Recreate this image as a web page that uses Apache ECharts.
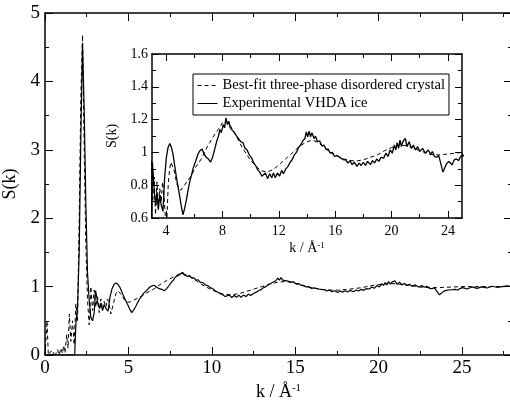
<!DOCTYPE html>
<html>
<head>
<meta charset="utf-8">
<script src="https://cdn.jsdelivr.net/npm/echarts@6/dist/echarts.min.js"></script>
<style>
  html, body { margin: 0; padding: 0; background: #fff; }
  #chart { width: 510px; height: 403px; }
</style>
</head>
<body>
<div id="chart"></div>
<script>
const FIT = 'Best-fit three-phase disordered crystal'
const EXP = 'Experimental VHDA ice'

// best-fit curve (dashed)
const kFit = [0, 0.08, 0.12, 0.16, 0.2, 0.3, 0.38, 0.45, 0.55, 0.62, 0.75, 0.85, 0.95, 1.05, 1.12, 1.2, 1.3, 1.38, 1.46, 1.55,
  1.65, 1.75, 1.85, 1.95, 2.05, 2.15, 2.25, 2.35, 2.45, 2.55, 2.65, 2.75, 2.85, 2.95, 3.05, 3.15, 3.25, 3.35, 3.45, 3.55,
  3.65, 3.75, 3.85, 3.95, 4.05, 4.15, 4.25, 4.35, 4.45, 4.6, 4.75, 4.9, 5.05, 5.3, 5.55, 5.8, 6.1, 6.5, 6.9, 7.3,
  7.7, 8.0, 8.2, 8.5, 8.8, 9.1, 9.4, 9.7, 10.0, 10.35, 10.7, 11.15, 11.6, 12.1, 12.6, 13.0, 13.5, 14.0, 14.4, 14.8,
  15.2, 15.65, 16.1, 16.6, 17.1, 17.55, 18.0, 18.5, 19.0, 19.5, 20.0, 20.6, 21.1, 21.6, 22.2, 22.6, 23.0, 23.5, 24.0, 24.5,
  25.0, 25.5, 26.0, 26.5, 27.0, 27.5, 28.0]
const sFit = [0, 0, 0.5, 0.25, 0, 0, 0.06, 0, 0.05, 0, 0.08, 0, 0.1, 0.02, 0.14, 0.03, 0.3, 0.1, 0.6, 0.2,
  0.5, 0.15, 0.75, 0.5, 2.0, 3.8, 4.68, 3.0, 1.6, 0.8, 0.44, 1.0, 0.65, 0.95, 0.7, 0.85, 0.62, 0.82, 0.66, 0.78,
  0.7, 0.82, 0.74, 0.6, 0.58, 0.8, 0.9, 0.94, 0.95, 0.88, 0.81, 0.78, 0.77, 0.8, 0.83, 0.86, 0.91, 0.96, 1.03, 1.09,
  1.14, 1.18, 1.195, 1.17, 1.13, 1.08, 1.03, 0.99, 0.95, 0.92, 0.89, 0.88, 0.895, 0.93, 0.97, 1.0, 1.04, 1.065, 1.075, 1.06,
  1.03, 1.0, 0.98, 0.96, 0.95, 0.948, 0.955, 0.97, 0.985, 1.01, 1.03, 1.045, 1.04, 1.025, 1.005, 0.99, 0.985, 0.985, 0.99, 0.995,
  1.0, 1.0, 1.0, 1.0, 1.0, 1.0, 1.0]

// experimental curve (solid)
const kExp = [0, 0.5, 1.0, 1.5, 1.78, 1.85, 1.95, 2.05, 2.15, 2.25, 2.35, 2.45, 2.55, 2.65, 2.75, 2.85, 2.95, 3.03, 3.1, 3.19,
  3.27, 3.35, 3.45, 3.55, 3.65, 3.78, 3.9, 4.02, 4.14, 4.26, 4.38, 4.49, 4.61, 4.73, 4.85, 4.97, 5.08, 5.2, 5.32, 5.44,
  5.56, 5.7, 5.8, 5.91, 6.03, 6.15, 6.27, 6.4, 6.55, 6.7, 6.85, 7.0, 7.15, 7.3, 7.45, 7.6, 7.72, 7.82, 7.92, 8.05,
  8.15, 8.25, 8.35, 8.45, 8.55, 8.68, 8.8, 8.92, 9.05, 9.18, 9.3, 9.45, 9.6, 9.75, 9.9, 10.05, 10.2, 10.35, 10.5, 10.65,
  10.8, 10.91, 11.05, 11.2, 11.35, 11.5, 11.62, 11.75, 11.9, 12.05, 12.2, 12.33, 12.5, 12.65, 12.8, 12.95, 13.1, 13.25, 13.4, 13.55,
  13.7, 13.85, 13.95, 14.05, 14.15, 14.25, 14.35, 14.5, 14.6, 14.75, 14.9, 15.05, 15.2, 15.35, 15.5, 15.65, 15.8, 15.95, 16.1, 16.25,
  16.4, 16.6, 16.75, 16.9, 17.05, 17.2, 17.35, 17.55, 17.7, 17.85, 18.0, 18.15, 18.3, 18.5, 18.65, 18.8, 18.95, 19.1, 19.25, 19.44,
  19.6, 19.75, 19.9, 20.05, 20.2, 20.3, 20.4, 20.5, 20.6, 20.7, 20.8, 20.98, 21.1, 21.25, 21.4, 21.55, 21.7, 21.85, 22.0, 22.2,
  22.4, 22.6, 22.76, 22.9, 23.05, 23.2, 23.35, 23.5, 23.65, 23.75, 23.9, 24.06, 24.2, 24.3, 24.45, 24.6, 24.75, 24.9, 25.05, 25.3,
  25.6, 25.9, 26.2, 26.5, 26.8, 27.1, 27.4, 27.7, 28.0]
const sExp = [0, 0, 0, 0, 0, 0.45, 0.7, 1.5, 3.2, 4.55, 3.6, 2.2, 1.2, 0.8, 0.55, 0.5, 0.62, 0.94, 0.85, 0.73,
  0.68, 0.76, 0.65, 0.74, 0.68, 0.64, 0.85, 0.97, 1.03, 1.055, 1.03, 0.99, 0.92, 0.85, 0.79, 0.73, 0.67, 0.62, 0.66, 0.71,
  0.77, 0.83, 0.86, 0.9, 0.93, 0.96, 0.99, 1.01, 1.02, 0.99, 0.97, 0.96, 0.94, 0.97, 1.02, 1.07, 1.1, 1.14, 1.12, 1.17,
  1.15, 1.21, 1.17, 1.19, 1.15, 1.16, 1.125, 1.13, 1.095, 1.1, 1.065, 1.06, 1.025, 1.015, 0.985, 0.97, 0.94, 0.92, 0.895, 0.88,
  0.855, 0.845, 0.875, 0.84, 0.87, 0.845, 0.875, 0.845, 0.875, 0.855, 0.89, 0.87, 0.9, 0.915, 0.94, 0.955, 0.985, 1.0, 1.03, 1.045,
  1.07, 1.085, 1.125, 1.095, 1.13, 1.095, 1.12, 1.085, 1.1, 1.065, 1.07, 1.04, 1.045, 1.02, 1.02, 0.995, 1.0, 0.975, 0.98, 0.975,
  0.965, 0.955, 0.955, 0.935, 0.95, 0.925, 0.94, 0.915, 0.935, 0.92, 0.94, 0.92, 0.945, 0.925, 0.95, 0.935, 0.96, 0.945, 0.97, 0.965,
  0.995, 0.975, 1.015, 0.995, 1.045, 1.015, 1.06, 1.025, 1.075, 1.035, 1.065, 1.086, 1.035, 1.065, 1.025, 1.045, 1.015, 1.035, 1.005, 1.025,
  0.995, 1.015, 0.99, 1.005, 0.975, 0.97, 0.98, 0.93, 0.88, 0.9, 0.93, 0.945, 0.95, 0.925, 0.955, 0.96, 0.95, 0.975, 0.985, 0.965,
  0.995, 0.975, 0.995, 0.98, 1.005, 0.99, 1.0, 1.01, 1.0]

// tick values
const mainXMajor = [0, 5, 10, 15, 20, 25]
const mainXMinor = [2.5, 7.5, 12.5, 17.5, 22.5, 27.5]
const insetXMajor = [4, 8, 12, 16, 20, 24]
const insetXMinor = [6, 10, 14, 18, 22]

const zip = (xs, ys) => xs.map((x, i) => [x, ys[i]])
const fitData = zip(kFit, sFit)
const expData = zip(kExp, sExp)

const FONT = 'Liberation Serif'
const black = { color: '#000', width: 1.5 }

// one x axis: labelled major ticks with the frame line, or short minor ticks only
function xAxis(grid, pos, min, max, ticks, len, opts) {
  opts = opts || {}
  return {
    gridIndex: grid, type: 'value', position: pos, min: min, max: max,
    axisLine: { show: !!opts.line, onZero: false, lineStyle: black },
    axisTick: { inside: true, length: len, customValues: ticks, lineStyle: { color: '#000', width: 1 } },
    axisLabel: opts.label ? { show: true, customValues: ticks, color: '#000', fontFamily: FONT, fontSize: opts.label, margin: opts.margin } : { show: false },
    splitLine: { show: false },
    name: opts.name, nameLocation: 'middle', nameGap: opts.nameGap,
    nameTextStyle: opts.nameStyle
  }
}

function kName(size, sup) {
  return {
    color: '#000',
    rich: {
      a: { fontFamily: FONT, fontSize: size, color: '#000' },
      b: { fontFamily: FONT, fontSize: sup, color: '#000', verticalAlign: 'top' }
    }
  }
}

const options = {
  animation: false,
  backgroundColor: '#fff',
  grid: [
    { left: 45, right: -2, top: 13, bottom: 48, outerBoundsMode: 'none' },
    { left: 152, right: 48, top: 54, bottom: 185, outerBoundsMode: 'none' }
  ],
  legend: {
    left: 193, top: 74, orient: 'vertical', align: 'left',
    data: [FIT, EXP],
    itemWidth: 20, itemHeight: 14, itemGap: 3,
    padding: [4, 4, 4, 4],
    borderColor: '#000', borderWidth: 1, borderRadius: 0,
    itemStyle: { color: 'rgba(0,0,0,0)', borderColor: 'rgba(0,0,0,0)', borderWidth: 0, opacity: 0 },
    lineStyle: { width: 1 },
    textStyle: { fontFamily: FONT, fontSize: 14.6, color: '#000' },
    selectedMode: false
  },
  xAxis: [
    xAxis(0, 'bottom', 0, 28, mainXMajor, 8, { line: true, label: 19, margin: 4, name: '{a|k / Å}{b|-1}', nameGap: 19, nameStyle: kName(18, 11) }),
    xAxis(0, 'bottom', 0, 28, mainXMinor, 4),
    xAxis(0, 'top', 0, 28, mainXMajor, 8, { line: true }),
    xAxis(0, 'top', 0, 28, mainXMinor, 4),
    xAxis(1, 'bottom', 3, 25, insetXMajor, 7, { line: true, label: 14, margin: 6, name: '{a|k / Å}{b|-1}', nameGap: 23, nameStyle: kName(14, 9) }),
    xAxis(1, 'bottom', 3, 25, insetXMinor, 4),
    xAxis(1, 'top', 3, 25, insetXMajor, 7, { line: true }),
    xAxis(1, 'top', 3, 25, insetXMinor, 4)
  ],
  yAxis: [
    {
      gridIndex: 0, type: 'value', position: 'left', min: 0, max: 5, interval: 1,
      axisLine: { show: true, onZero: false, lineStyle: black },
      axisTick: { inside: true, length: 8, lineStyle: { color: '#000', width: 1 } },
      minorTick: { show: true, splitNumber: 2, length: 4, lineStyle: { color: '#000', width: 1 } },
      axisLabel: { color: '#000', fontFamily: FONT, fontSize: 19, margin: 5 },
      splitLine: { show: false }, minorSplitLine: { show: false },
      name: 'S(k)', nameLocation: 'middle', nameGap: 11,
      nameTextStyle: { fontFamily: FONT, fontSize: 18, color: '#000' }
    },
    {
      gridIndex: 0, type: 'value', position: 'right', min: 0, max: 5, interval: 1,
      axisLine: { show: true, onZero: false, lineStyle: black },
      axisTick: { inside: true, length: 8, lineStyle: { color: '#000', width: 1 } },
      minorTick: { show: true, splitNumber: 2, length: 4, lineStyle: { color: '#000', width: 1 } },
      axisLabel: { show: false },
      splitLine: { show: false }
    },
    {
      gridIndex: 1, type: 'value', position: 'left', min: 0.6, max: 1.6, interval: 0.2,
      axisLine: { show: true, onZero: false, lineStyle: black },
      axisTick: { inside: true, length: 7, lineStyle: { color: '#000', width: 1 } },
      minorTick: { show: true, splitNumber: 2, length: 4, lineStyle: { color: '#000', width: 1 } },
      axisLabel: { color: '#000', fontFamily: FONT, fontSize: 14, margin: 4 },
      splitLine: { show: false },
      name: 'S(k)', nameLocation: 'middle', nameGap: 23,
      nameTextStyle: { fontFamily: FONT, fontSize: 14, color: '#000' }
    },
    {
      gridIndex: 1, type: 'value', position: 'right', min: 0.6, max: 1.6, interval: 0.2,
      axisLine: { show: true, onZero: false, lineStyle: black },
      axisTick: { inside: true, length: 7, lineStyle: { color: '#000', width: 1 } },
      minorTick: { show: true, splitNumber: 2, length: 4, lineStyle: { color: '#000', width: 1 } },
      axisLabel: { show: false },
      splitLine: { show: false }
    }
  ],
  series: [
    { name: FIT, type: 'line', xAxisIndex: 0, yAxisIndex: 0, data: fitData, symbol: 'none', color: '#000', lineStyle: { color: '#000', width: 1, type: [4, 3] } },
    { name: EXP, type: 'line', xAxisIndex: 0, yAxisIndex: 0, data: expData, symbol: 'none', color: '#000', lineStyle: { color: '#000', width: 1.2 } },
    { name: FIT, type: 'line', xAxisIndex: 4, yAxisIndex: 2, data: fitData, symbol: 'none', color: '#000', lineStyle: { color: '#000', width: 1, type: [4, 3] } },
    { name: EXP, type: 'line', xAxisIndex: 4, yAxisIndex: 2, data: expData, symbol: 'none', color: '#000', lineStyle: { color: '#000', width: 1.3 } }
  ]
}

const chart = echarts.init(document.getElementById('chart'))
chart.setOption(options)
window.onresize = function () {
  chart.resize()
}
</script>
</body>
</html>
